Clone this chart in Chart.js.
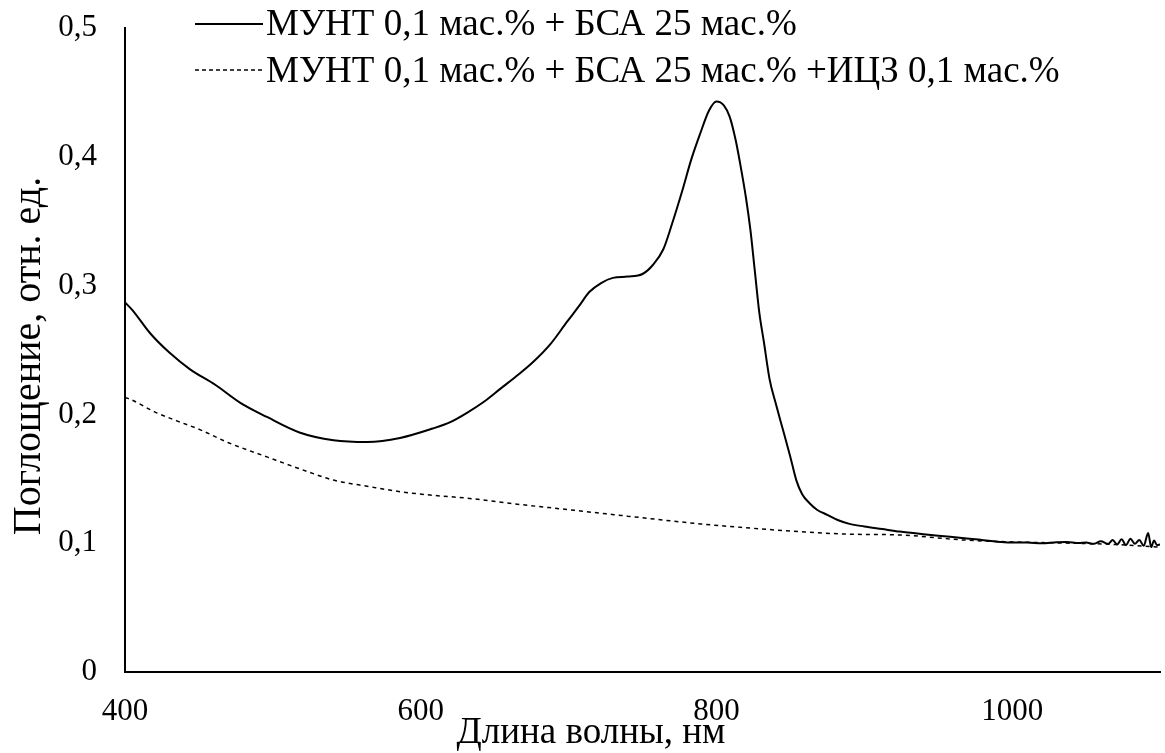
<!DOCTYPE html>
<html>
<head>
<meta charset="utf-8">
<script src="https://cdn.jsdelivr.net/npm/chart.js@4"></script>
<style>
  body { margin: 0; background: #fff; font-family: 'Liberation Serif', serif; }
</style>
</head>
<body>
<canvas id="spectrumChart" width="1165" height="753"></canvas>
<script>
'use strict'

// Wavelengths and absorbance
const solidNm = [400, 405, 417, 430, 444, 461, 478, 496, 518, 541, 564, 586, 608, 620, 631, 643, 654, 665, 676, 688,
    699, 707, 714, 722, 730, 740, 750, 757, 764, 770, 777, 783, 789, 795, 800, 805, 809, 813, 816, 820,
    823, 826, 829, 832, 836, 840, 845, 850, 854, 858, 863, 868, 875, 882, 890, 900, 912, 924, 940, 958,
    975, 992, 1000, 1010, 1020, 1030, 1037, 1045, 1050, 1055, 1060, 1065, 1068, 1071, 1074, 1077, 1080, 1083, 1086, 1089,
    1092, 1094, 1096, 1098, 1100];
const solidAbs = [0.287, 0.281, 0.263, 0.248, 0.235, 0.223, 0.209, 0.198, 0.186, 0.180, 0.1786, 0.1817, 0.189, 0.194, 0.201, 0.210, 0.220, 0.230, 0.2407, 0.255,
    0.272, 0.284, 0.295, 0.302, 0.306, 0.307, 0.309, 0.316, 0.328, 0.348, 0.374, 0.398, 0.418, 0.436, 0.443, 0.440, 0.431, 0.413, 0.395, 0.368,
    0.343, 0.311, 0.279, 0.257, 0.227, 0.209, 0.188, 0.167, 0.149, 0.138, 0.131, 0.126, 0.122, 0.118, 0.115, 0.113, 0.111, 0.109, 0.107, 0.105,
    0.103, 0.101, 0.1005, 0.1005, 0.100, 0.1008, 0.101, 0.1002, 0.1005, 0.0995, 0.1015, 0.0995, 0.1025, 0.099, 0.103, 0.0985, 0.1035, 0.0995, 0.1025, 0.098,
    0.108, 0.097, 0.102, 0.0985, 0.099];

const dashedNm = [400, 403, 420, 435, 451, 470, 496, 520, 541, 565, 586, 610, 631, 660, 700, 740, 789, 820, 856, 890,
    924, 967, 1000, 1040, 1070, 1100];
const dashedAbs = [0.213, 0.212, 0.202, 0.195, 0.188, 0.178, 0.167, 0.157, 0.149, 0.144, 0.140, 0.137, 0.135, 0.131, 0.126, 0.121, 0.115, 0.112, 0.109, 0.107,
    0.1064, 0.1025, 0.101, 0.100, 0.099, 0.097];

const seriesNames = ['МУНТ 0,1 мас.% + БСА 25 мас.%', 'МУНТ 0,1 мас.% + БСА 25 мас.% +ИЦЗ 0,1 мас.%'];
const xTitle = 'Длина волны, нм';
const yTitle = 'Поглощение, отн. ед.';
const xTicks = [400, 600, 800, 1000];

const serif = "Liberation Serif, Tinos, Times New Roman, DejaVu Serif, serif";

function toPoints(xs, ys) {
    return xs.map((x, i) => ({ x: x, y: ys[i] }));
}

// legend and axis titles, drawn at fixed spots like in the original
const textPlugin = {
    id: 'textPlugin',
    afterDraw(chart) {
        const ctx = chart.ctx;
        ctx.save();
        ctx.fillStyle = '#000';
        ctx.strokeStyle = '#000';
        ctx.font = '37px ' + serif;
        ctx.textBaseline = 'alphabetic';
        ctx.textAlign = 'left';

        // legend
        ctx.lineWidth = 2;
        ctx.setLineDash([]);
        ctx.beginPath(); ctx.moveTo(195, 24); ctx.lineTo(263, 24); ctx.stroke();
        ctx.fillText(seriesNames[0], 266, 35);
        ctx.lineWidth = 1.5;
        ctx.setLineDash([4, 3]);
        ctx.beginPath(); ctx.moveTo(195, 70); ctx.lineTo(263, 70); ctx.stroke();
        ctx.setLineDash([]);
        ctx.fillText(seriesNames[1], 266, 82);

        // x title
        ctx.textAlign = 'center';
        ctx.fillText(xTitle, 591, 743);

        // y title
        ctx.font = '40px ' + serif;
        ctx.translate(40, 356);
        ctx.rotate(-Math.PI / 2);
        ctx.fillText(yTitle, 0, 0);
        ctx.restore();
    }
};

function drawChart() {
    const ctx = document.getElementById('spectrumChart').getContext('2d');
    new Chart(ctx, {
        type: 'line',
        data: {
            datasets: [
                {
                    label: seriesNames[0],
                    data: toPoints(solidNm, solidAbs),
                    borderColor: '#000',
                    borderWidth: 2,
                    pointRadius: 0,
                    cubicInterpolationMode: 'monotone',
                    fill: false
                },
                {
                    label: seriesNames[1],
                    data: toPoints(dashedNm, dashedAbs),
                    borderColor: '#000',
                    borderWidth: 1.5,
                    borderDash: [4, 4],
                    pointRadius: 0,
                    cubicInterpolationMode: 'monotone',
                    fill: false
                }
            ]
        },
        options: {
            responsive: false,
            animation: false,
            layout: { padding: { top: 28, right: 5, left: 0, bottom: 0 } },
            plugins: { legend: { display: false }, tooltip: { enabled: false } },
            scales: {
                x: {
                    type: 'linear',
                    min: 400,
                    max: 1100,
                    afterBuildTicks: (scale) => {
                        scale.ticks = xTicks.map(v => ({ value: v }));
                    },
                    afterFit: (scale) => {
                        scale.height = 81;
                        scale.paddingLeft = 0;
                        scale.paddingRight = 0;
                    },
                    grid: { display: false, drawTicks: false },
                    border: { display: true, color: '#000', width: 2 },
                    ticks: {
                        padding: 21,
                        color: '#000',
                        font: { family: serif, size: 31 },
                        maxRotation: 0,
                        callback: (v) => String(v)
                    }
                },
                y: {
                    min: 0,
                    max: 0.5,
                    afterFit: (scale) => {
                        scale.width = 125;
                        scale.paddingTop = 0;
                        scale.paddingBottom = 0;
                    },
                    grid: { display: false, drawTicks: false },
                    border: { display: true, color: '#000', width: 2 },
                    ticks: {
                        stepSize: 0.1,
                        padding: 28,
                        color: '#000',
                        font: { family: serif, size: 31 },
                        callback: (v) => v === 0 ? '0' : v.toFixed(1).replace('.', ',')
                    }
                }
            }
        },
        plugins: [textPlugin]
    });
}

if (document.fonts && document.fonts.load) {
    document.fonts.load('37px ' + serif).then(drawChart, drawChart);
} else {
    drawChart();
}
</script>
</body>
</html>
